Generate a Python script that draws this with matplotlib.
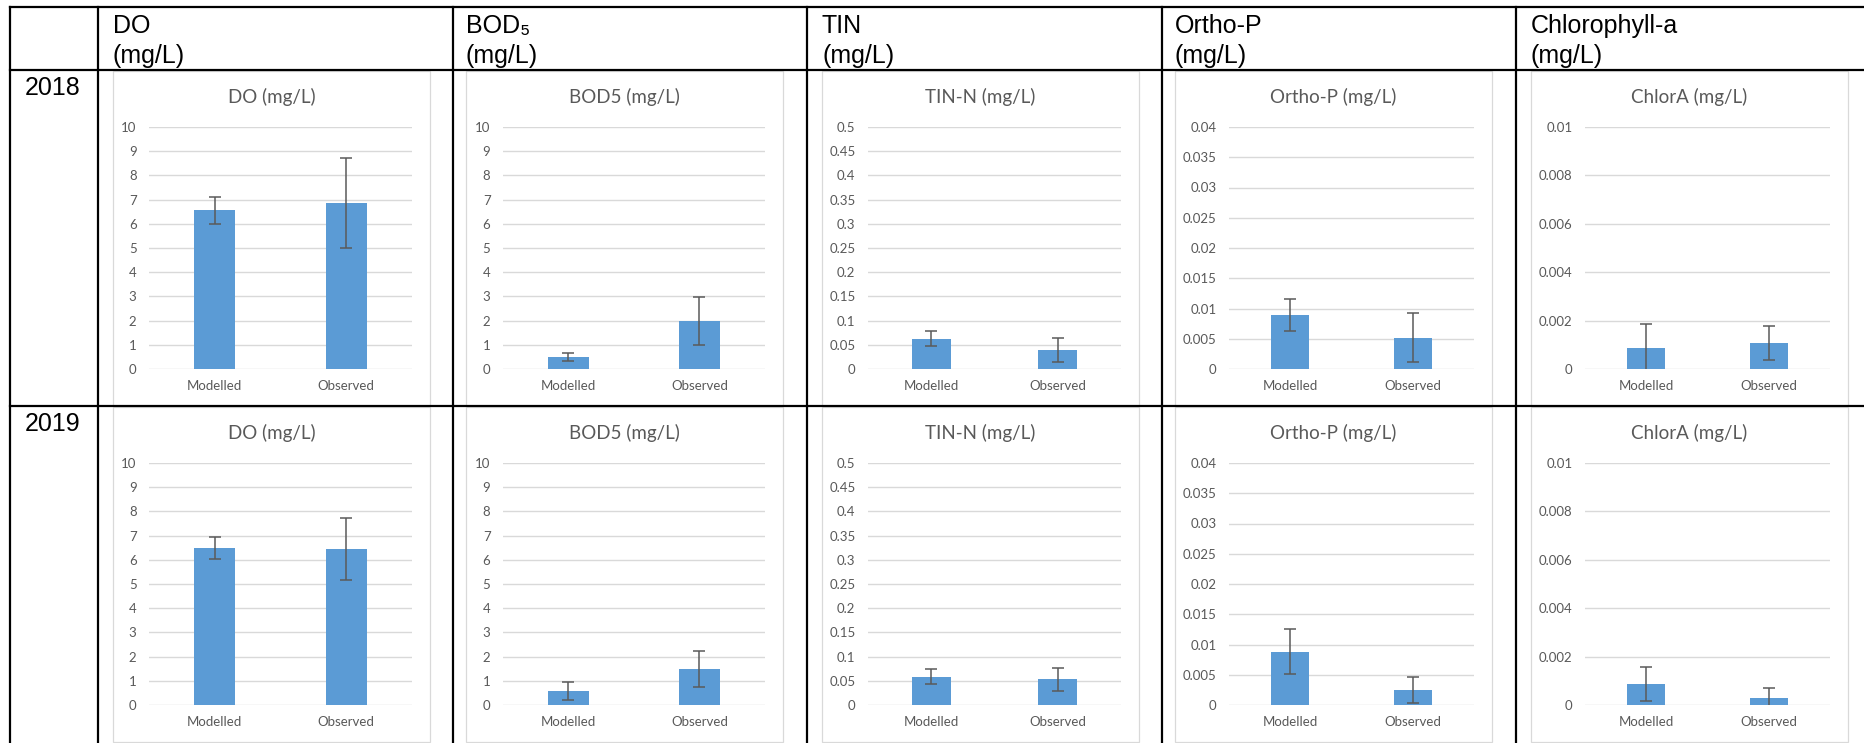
import matplotlib.pyplot as plt
from matplotlib.lines import Line2D
from matplotlib.patches import Rectangle

# page size in pixels (dpi 100)
W, H = 1865, 743

years = ["2018", "2019"]
categories = ["Modelled", "Observed"]
headers = ["DO\n(mg/L)", "BOD\u2085\n(mg/L)", "TIN\n(mg/L)", "Ortho-P\n(mg/L)", "Chlorophyll-a\n(mg/L)"]
titles = ["DO (mg/L)", "BOD5 (mg/L)", "TIN-N (mg/L)", "Ortho-P (mg/L)", "ChlorA (mg/L)"]

# bar heights and error bar half widths, one row per year: [Modelled, Observed]
do_mean = [[6.55, 6.87], [6.50, 6.45]]
do_err = [[0.54, 1.85], [0.45, 1.28]]
bod_mean = [[0.48, 1.98], [0.57, 1.49]]
bod_err = [[0.17, 0.98], [0.37, 0.74]]
tin_mean = [[0.063, 0.0385], [0.058, 0.053]]
tin_err = [[0.015, 0.025], [0.0155, 0.024]]
op_mean = [[0.0089, 0.0052], [0.0088, 0.0025]]
op_err = [[0.0027, 0.0041], [0.0037, 0.0022]]
chl_mean = [[0.00088, 0.00106], [0.00087, 0.00029]]
chl_err = [[0.00098, 0.0007], [0.0007, 0.00041]]

do_ticks = [0, 1, 2, 3, 4, 5, 6, 7, 8, 9, 10]
bod_ticks = [0, 1, 2, 3, 4, 5, 6, 7, 8, 9, 10]
tin_ticks = [0, 0.05, 0.1, 0.15, 0.2, 0.25, 0.3, 0.35, 0.4, 0.45, 0.5]
op_ticks = [0, 0.005, 0.01, 0.015, 0.02, 0.025, 0.03, 0.035, 0.04]
chl_ticks = [0, 0.002, 0.004, 0.006, 0.008, 0.01]

means = [do_mean, bod_mean, tin_mean, op_mean, chl_mean]
errs = [do_err, bod_err, tin_err, op_err, chl_err]
ticks = [do_ticks, bod_ticks, tin_ticks, op_ticks, chl_ticks]

# table / chart geometry in pixels
col_lines = [10, 98, 453, 807, 1162, 1516]
row_lines = [7, 70, 406]
box_left = [113, 466, 822, 1175, 1531]
box_top = [71, 407]
box_w, box_h = 317, 335
plot_left = [36, 37, 46, 54, 54]

BAR = "#5B9BD5"
GRID = "#D9D9D9"
TXT = "#595959"
CHART_FONT = ["Lato", "DejaVu Sans"]
TABLE_FONT = ["Liberation Sans", "DejaVu Sans"]


def fx(x):
    return x / W


def fy(y):
    return 1 - y / H


fig = plt.figure(figsize=(W / 100, H / 100), dpi=100)

# table rules
for x in col_lines:
    fig.add_artist(Line2D([fx(x), fx(x)], [fy(row_lines[0]), 0], color="black", lw=1.6))
for y in row_lines:
    fig.add_artist(Line2D([fx(col_lines[0]), 1], [fy(y), fy(y)], color="black", lw=1.6))

# header row (two lines each) and year labels
for c, head in enumerate(headers):
    top, bottom = head.split("\n")
    fig.text(fx(box_left[c]), fy(33), top, family=TABLE_FONT, fontsize=18,
             va="baseline", ha="left")
    fig.text(fx(box_left[c]), fy(63), bottom, family=TABLE_FONT, fontsize=18,
             va="baseline", ha="left")
for r, yr in enumerate(years):
    fig.text(fx(25), fy(row_lines[r + 1] + 25), yr, family=TABLE_FONT, fontsize=18,
             va="baseline", ha="left")

for r in range(len(years)):
    for c in range(len(titles)):
        bx, by = box_left[c], box_top[r]
        fig.add_artist(Rectangle((fx(bx), fy(by + box_h)), box_w / W, box_h / H,
                                 transform=fig.transFigure, fc="white", ec=GRID, lw=0.9, zorder=0))
        fig.text(fx(bx + box_w / 2), fy(by + 26), titles[c], family=CHART_FONT,
                 fontsize=13.5, color=TXT, ha="center", va="center")

        x0 = bx + plot_left[c]
        x1 = bx + 299
        y0 = by + 56
        y1 = by + 298
        ax = fig.add_axes([fx(x0), fy(y1), (x1 - x0) / W, (y1 - y0) / H])
        ax.set_facecolor("none")

        ax.bar(categories, means[c][r], width=0.31, color=BAR, zorder=2)
        ax.errorbar(categories, means[c][r], yerr=errs[c][r], fmt="none",
                    ecolor="#5A5A5A", elinewidth=1.1, capsize=4, capthick=1.1, zorder=3)

        tk = ticks[c]
        ax.set_xlim(-0.5, 1.5)
        ax.set_ylim(tk[0], tk[-1])
        ax.set_yticks(tk)
        ax.set_yticklabels(["%g" % t for t in tk])
        ax.grid(axis="y", color=GRID, lw=1.0, zorder=0)
        ax.set_axisbelow(True)
        for s in ax.spines.values():
            s.set_visible(False)
        ax.tick_params(axis="both", length=0, colors=TXT, labelsize=9.5)
        ax.tick_params(axis="y", pad=9)
        ax.tick_params(axis="x", pad=8)
        for lab in ax.get_xticklabels() + ax.get_yticklabels():
            lab.set_family(CHART_FONT)

fig.savefig("out.png", dpi=100)
